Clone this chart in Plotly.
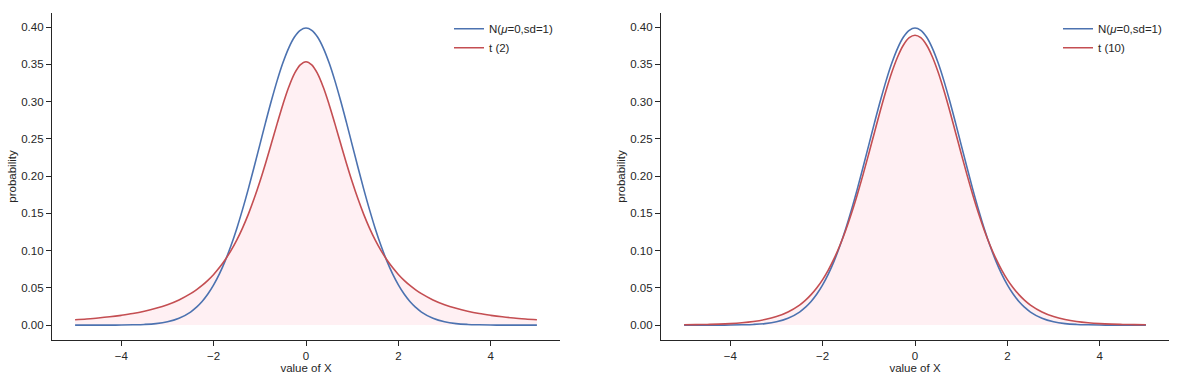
import plotly.graph_objects as go

# x grid (value of X): coarse in the tails, finer around the peak
x_vals = [-5.0, -4.75, -4.5, -4.25, -4.0, -3.75, -3.5, -3.25, -3.0, -2.75,
          -2.5, -2.375, -2.25, -2.125, -2.0, -1.875, -1.75, -1.625, -1.5, -1.375,
          -1.25, -1.125, -1.0, -0.875, -0.75, -0.625, -0.5, -0.375, -0.25, -0.125,
          0.0,
          0.125, 0.25, 0.375, 0.5, 0.625, 0.75, 0.875, 1.0, 1.125, 1.25,
          1.375, 1.5, 1.625, 1.75, 1.875, 2.0, 2.125, 2.25, 2.375, 2.5,
          2.75, 3.0, 3.25, 3.5, 3.75, 4.0, 4.25, 4.5, 4.75, 5.0]

normal_pdf = [0.0000, 0.0000, 0.0000, 0.0000, 0.0001, 0.0004, 0.0009, 0.0020, 0.0044, 0.0091,
              0.0175, 0.0238, 0.0317, 0.0417, 0.0540, 0.0688, 0.0863, 0.1065, 0.1295, 0.1550,
              0.1826, 0.2119, 0.2420, 0.2721, 0.3011, 0.3282, 0.3521, 0.3719, 0.3867, 0.3958,
              0.3989,
              0.3958, 0.3867, 0.3719, 0.3521, 0.3282, 0.3011, 0.2721, 0.2420, 0.2119, 0.1826,
              0.1550, 0.1295, 0.1065, 0.0863, 0.0688, 0.0540, 0.0417, 0.0317, 0.0238, 0.0175,
              0.0091, 0.0044, 0.0020, 0.0009, 0.0004, 0.0001, 0.0000, 0.0000, 0.0000, 0.0000]

t2_pdf = [0.0071, 0.0082, 0.0095, 0.0111, 0.0131, 0.0155, 0.0186, 0.0225, 0.0274, 0.0338,
          0.0422, 0.0474, 0.0533, 0.0601, 0.0680, 0.0772, 0.0878, 0.1000, 0.1141, 0.1303,
          0.1487, 0.1695, 0.1925, 0.2174, 0.2438, 0.2705, 0.2963, 0.3193, 0.3376, 0.3494,
          0.3536,
          0.3494, 0.3376, 0.3193, 0.2963, 0.2705, 0.2438, 0.2174, 0.1925, 0.1695, 0.1487,
          0.1303, 0.1141, 0.1000, 0.0878, 0.0772, 0.0680, 0.0601, 0.0533, 0.0474, 0.0422,
          0.0338, 0.0274, 0.0225, 0.0186, 0.0155, 0.0131, 0.0111, 0.0095, 0.0082, 0.0071]

t10_pdf = [0.0004, 0.0006, 0.0009, 0.0013, 0.0020, 0.0031, 0.0048, 0.0074, 0.0114, 0.0176,
           0.0269, 0.0332, 0.0409, 0.0501, 0.0611, 0.0742, 0.0895, 0.1072, 0.1274, 0.1501,
           0.1751, 0.2020, 0.2304, 0.2593, 0.2880, 0.3152, 0.3397, 0.3603, 0.3760, 0.3858,
           0.3891,
           0.3858, 0.3760, 0.3603, 0.3397, 0.3152, 0.2880, 0.2593, 0.2304, 0.2020, 0.1751,
           0.1501, 0.1274, 0.1072, 0.0895, 0.0742, 0.0611, 0.0501, 0.0409, 0.0332, 0.0269,
           0.0176, 0.0114, 0.0074, 0.0048, 0.0031, 0.0020, 0.0013, 0.0009, 0.0006, 0.0004]

x_ticks = [-4, -2, 0, 2, 4]
y_ticks = [0, 0.05, 0.1, 0.15, 0.2, 0.25, 0.3, 0.35, 0.4]

normal_label = "N(<i>μ</i>=0,sd=1)"
panels = [("t (2)", t2_pdf), ("t (10)", t10_pdf)]

BLUE = "#4C72B0"
RED = "#C44E52"
FILL = "#FFF0F3"
INK = "#262626"
FONT = "Liberation Sans, Arial, sans-serif"

fig = go.Figure()
W, H = 1181, 380
domains = [(52 / W, 560 / W), (661 / W, 1169 / W)]

for i, (tname, tvals) in enumerate(panels):
    xa = "x" if i == 0 else "x2"
    ya = "y" if i == 0 else "y2"
    leg = "legend" if i == 0 else "legend2"
    fig.add_trace(go.Scatter(x=x_vals, y=tvals, mode="lines", fill="tozeroy",
                             fillcolor=FILL, line=dict(width=0, shape="spline"),
                             showlegend=False, hoverinfo="skip", xaxis=xa, yaxis=ya))
    fig.add_trace(go.Scatter(x=x_vals, y=normal_pdf, mode="lines", name=normal_label,
                             line=dict(color=BLUE, width=1.6, shape="spline"),
                             xaxis=xa, yaxis=ya, legend=leg))
    fig.add_trace(go.Scatter(x=x_vals, y=tvals, mode="lines", name=tname,
                             line=dict(color=RED, width=1.6, shape="spline"),
                             xaxis=xa, yaxis=ya, legend=leg))

axis_common = dict(showline=True, linecolor=INK, linewidth=1.25, ticks="outside",
                   ticklen=5, tickwidth=1.25, tickcolor=INK, showgrid=False, zeroline=False,
                   tickfont=dict(family=FONT, size=11.5, color=INK), mirror=False,
                   automargin=False)

for i in range(2):
    sx = "" if i == 0 else "2"
    fig.layout["xaxis" + sx] = dict(axis_common, domain=list(domains[i]), range=[-5.5, 5.5],
                                    tickvals=x_ticks, anchor="y" + sx,
                                    title=dict(text="value of X", standoff=2,
                                               font=dict(family=FONT, size=11.5, color=INK)))
    fig.layout["yaxis" + sx] = dict(axis_common, domain=[0, 1], range=[-0.02, 0.419],
                                    tickvals=y_ticks, tickformat=".2f", anchor="x" + sx,
                                    title=dict(text="probability", standoff=2,
                                               font=dict(family=FONT, size=11.5, color=INK)))

legend_common = dict(bgcolor="rgba(0,0,0,0)", borderwidth=0, itemwidth=30,
                     font=dict(family=FONT, size=11.5, color=INK), yanchor="top", xanchor="left",
                     tracegroupgap=0)
fig.update_layout(
    width=W, height=H,
    margin=dict(l=0, r=0, t=13, b=40, autoexpand=False),
    plot_bgcolor="white", paper_bgcolor="white",
    legend=dict(legend_common, x=449 / W, y=0.996),
    legend2=dict(legend_common, x=1058 / W, y=0.996),
)

fig.write_html("out.html", config={"displayModeBar": False},
               post_script="document.body.style.margin='0';document.body.style.padding='0';")
